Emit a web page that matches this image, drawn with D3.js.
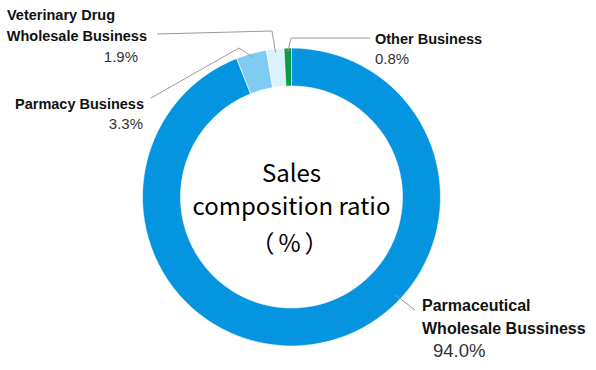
<!DOCTYPE html>
<html lang="en">
<head>
<meta charset="UTF-8"/>
<title>Sales composition ratio</title>
<script src="https://d3js.org/d3.v7.min.js"></script>
<style>
body { margin: 0; background: #fff; }
svg { display: block; }
text { fill: #111; }
text.name { font-family: "Liberation Sans", Arial, sans-serif; font-weight: bold; font-size: 14.5px; }
text.pct { font-family: "Liberation Sans", Arial, sans-serif; font-size: 15px; fill: #333; }
text.big.name { font-size: 16px; }
text.big.pct { font-size: 18.5px; }
text.center { font-family: "Noto Sans CJK JP", sans-serif; font-size: 24px; fill: #000; }
.leader { fill: none; stroke: #9a9a9a; stroke-width: 1; }
</style>
</head>
<body>
<svg width="596" height="370"></svg>
<script>
// data, clockwise from 12 o'clock
const categories = ['Parmaceutical Wholesale Bussiness', 'Parmacy Business', 'Veterinary Drug Wholesale Business', 'Other Business'];
const values = [94.0, 3.3, 1.9, 0.8];
const colors = ['#0594e0', '#7fcbf2', '#dcf1fb', '#0b9a48'];

const svg = d3.select('svg');
const cx = 291.5, cy = 197;
const rOuter = 149, rInner = 111;

const data = categories.map((c, i) => ({ name: c, value: values[i] }));

const pie = d3.pie().sort(null).value(d => d.value);
const arc = d3.arc().innerRadius(rInner).outerRadius(rOuter);

const chart = svg.append('g').attr('transform', `translate(${cx}, ${cy})`);
const arcs = pie(data);

chart.selectAll('path.slice')
  .data(arcs)
  .enter()
  .append('path')
  .attr('class', 'slice')
  .attr('d', arc)
  .attr('fill', (d, i) => colors[i])
  .attr('stroke', '#fff')
  .attr('stroke-width', 0.6);

// label layout (positions only), one entry per category
const labelLayout = [
  { at: 0.394, r: 142.5, path: [[415, 310]],
    lines: [['Parmaceutical', 422, 311, 'name big'], ['Wholesale Bussiness', 422, 334, 'name big'], [null, 433, 357, 'pct big']] },
  { at: 0.5, r: 145.5, path: [[239, 48], [151, 98]],
    lines: [['Parmacy Business', 144, 109, 'name', 'end'], [null, 143, 129, 'pct', 'end']] },
  { at: 0.5, r: 145.5, path: [[272, 31], [157, 34]],
    lines: [['Veterinary Drug', 7, 20, 'name'], ['Wholesale Business', 147, 41, 'name', 'end'], [null, 138, 62, 'pct', 'end']] },
  { at: 0.5, r: 145, path: [[291, 38], [370, 38]],
    lines: [['Other Business', 375, 44, 'name'], [null, 375, 64, 'pct']] }
];

const fmt = d3.format('.1f');

arcs.forEach((a, i) => {
  const lay = labelLayout[i];
  const ang = a.startAngle + (a.endAngle - a.startAngle) * lay.at;
  const start = [cx + lay.r * Math.sin(ang), cy - lay.r * Math.cos(ang)];
  svg.append('path')
    .attr('class', 'leader')
    .attr('d', d3.line()([start].concat(lay.path)));

  lay.lines.forEach(l => {
    svg.append('text')
      .attr('class', l[3])
      .attr('x', l[1])
      .attr('y', l[2])
      .attr('text-anchor', l[4] || 'start')
      .text(l[0] === null ? fmt(a.data.value) + '%' : l[0]);
  });
});

// center title
const centerLines = ['Sales', 'composition ratio', '（%）'];
const centerY = [182, 215, 252];
centerLines.forEach((t, i) => {
  svg.append('text')
    .attr('class', 'center')
    .attr('x', cx)
    .attr('y', centerY[i])
    .attr('text-anchor', 'middle')
    .style('letter-spacing', i === 2 ? '4px' : null)
    .text(t);
});
</script>
</body>
</html>
